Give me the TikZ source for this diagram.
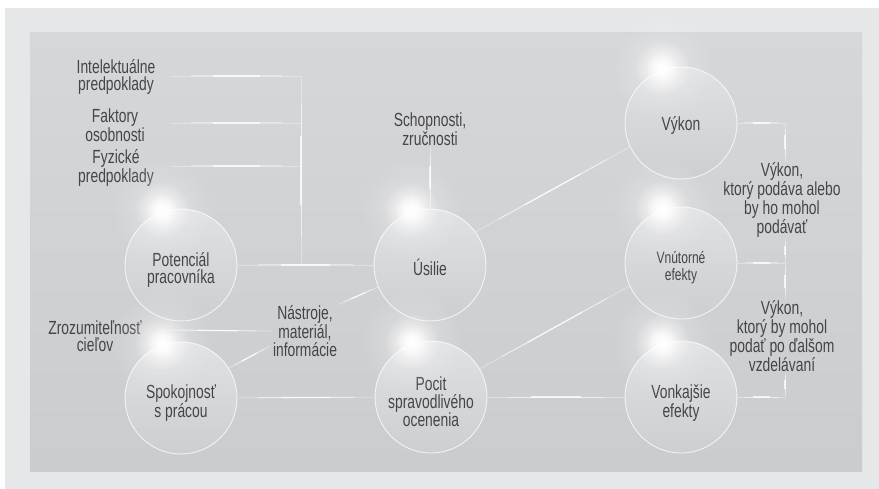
\documentclass[tikz,border=0pt]{standalone}
\usepackage{fontspec}
\setmainfont{Liberation Sans}[FakeStretch=0.73]
\usetikzlibrary{calc,fadings}

\definecolor{frame}{HTML}{E6E7E8}
\definecolor{panelTop}{HTML}{D6D7D9}
\definecolor{panelBot}{HTML}{CBCCCE}
\definecolor{discTop}{HTML}{E0E1E3}
\definecolor{discBot}{HTML}{CDCED0}
\definecolor{ink}{HTML}{454547}

\tikzfading[name=glowfade, inner color=transparent!0, outer color=transparent!100]

% a thin white line that is brightest in its middle and fades to both ends
\newcommand\glowlink[2]{%
  \path (#1) -- (#2)
    coordinate[pos=0] (gA) coordinate[pos=0.15] (gB) coordinate[pos=0.32] (gC)
    coordinate[pos=0.68] (gD) coordinate[pos=0.85] (gE) coordinate[pos=1] (gF);
  \draw[wireFaint] (gA) -- (gF);
  \draw[wireMid] (gB) -- (gE);
  \draw[wireHot] (gC) -- (gD);}

% soft light spot
\newcommand\sparkle[1]{%
  \fill[white, path fading=glowfade, fill opacity=0.35] (#1) circle (52pt);
  \fill[white, path fading=glowfade, fill opacity=0.9] (#1) circle (28pt);
  \fill[white, path fading=glowfade] (#1) circle (16pt);}

\begin{document}
\begin{tikzpicture}[x=1pt, y=-1pt,
  lbl/.style={font=\fontsize{19}{17.5}\selectfont, text=ink, align=center, inner sep=1pt},
  disc/.style={circle, minimum size=112pt, inner sep=0pt, draw=white, draw opacity=0.75,
    line width=0.9pt, top color=discTop, bottom color=discBot},
  smalltext/.style={font=\fontsize{16.5}{17}\selectfont},
  wireFaint/.style={white, opacity=0.35, line width=0.9pt},
  wireMid/.style={white, opacity=0.45, line width=1pt},
  wireHot/.style={white, opacity=0.75, line width=1.2pt}]

\useasboundingbox (0,0) rectangle (879,489);
\fill[white] (0,0) rectangle (879,489);
\fill[frame] (5,8) rectangle (879,489);
\shade[top color=panelTop, bottom color=panelBot] (30,33) rectangle (862,471);

% circles
\node[disc] (potencial) at (181,265) {};
\node[disc] (usilie) at (430,265) {};
\node[disc] (spokojnost) at (181,398) {};
\node[disc] (pocit) at (431,397) {};
\node[disc] (vykon) at (681,123) {};
\node[disc] (vnutorne) at (681,263) {};
\node[disc] (vonkajsie) at (681,397) {};

% circle captions
\node[lbl] (potencialText) at (181,270) {Potenciál\\pracovníka};
\node[lbl] (usilieText) at (430,267) {Úsilie};
\node[lbl] (spokojnostText) at (181,403) {Spokojnosť\\s prácou};
\node[lbl] (pocitText) at (431,402) {Pocit\\spravodlivého\\ocenenia};
\node[lbl] (vykonText) at (681,125) {Výkon};
\node[lbl, smalltext] (vnutorneText) at (681,268) {Vnútorné\\efekty};
\node[lbl] (vonkajsieText) at (681,403) {Vonkajšie\\efekty};

% free labels
\node[lbl] (intel) at (116,77) {Intelektuálne\\predpoklady};
\node[lbl] (faktory) at (115,125) {Faktory\\osobnosti};
\node[lbl] (fyzicke) at (116,168) {Fyzické\\predpoklady};
\node[lbl] (schop) at (430,129) {Schopnosti,\\zručnosti};
\node[lbl] (zroz) at (95,336) {Zrozumiteľnosť\\cieľov};
\node[lbl] (nastroje) at (305,331) {Nástroje,\\materiál,\\informácie};
\node[lbl] (out1) at (782,200) {Výkon,\\ktorý podáva alebo\\by ho mohol\\podávať};
\node[lbl] (out2) at (782,336) {Výkon,\\ktorý by mohol\\podať po ďalšom\\vzdelávaní};

% junction points
\coordinate (tIntel) at (172,76);
\coordinate (jIntel) at (301,76);
\coordinate (tFak) at (172,123);
\coordinate (jFak) at (301,123);
\coordinate (tFyz) at (172,166);
\coordinate (jFyz) at (301,166);
\coordinate (jPot) at (301,265);
\coordinate (tZroz) at (163,330);
\coordinate (nIn) at (270,346);
\coordinate (rV) at (785,123);
\coordinate (rN) at (785,263);
\coordinate (rK) at (785,397);

% left bracket
\glowlink{tIntel}{jIntel}
\glowlink{tFak}{jFak}
\glowlink{tFyz}{jFyz}
\glowlink{jIntel}{jPot}
\glowlink{potencial}{usilie}

% middle connectors
\glowlink{schop}{usilie}
\glowlink{tZroz}{nastroje.west}
\glowlink{spokojnost.32}{nIn}
\glowlink{nastroje.north east}{usilie.203}
\glowlink{spokojnost}{pocit}
\glowlink{usilie.36}{vykon.205}
\glowlink{pocit.30}{vnutorne.204}
\glowlink{pocit}{vonkajsie}

% right bracket
\glowlink{vykon}{rV}
\glowlink{vnutorne}{rN}
\glowlink{vonkajsie}{rK}
\glowlink{rV}{rV |- out1.north}
\glowlink{rV |- out1.south}{rN}
\glowlink{rN}{rV |- out2.north}
\glowlink{rV |- out2.south}{rK}

% light spots on the circles
\foreach \c in {potencial,usilie,spokojnost,pocit,vykon,vnutorne,vonkajsie}{
  \sparkle{$(\c)+(-19,-55)$}
}

\end{tikzpicture}
\end{document}
